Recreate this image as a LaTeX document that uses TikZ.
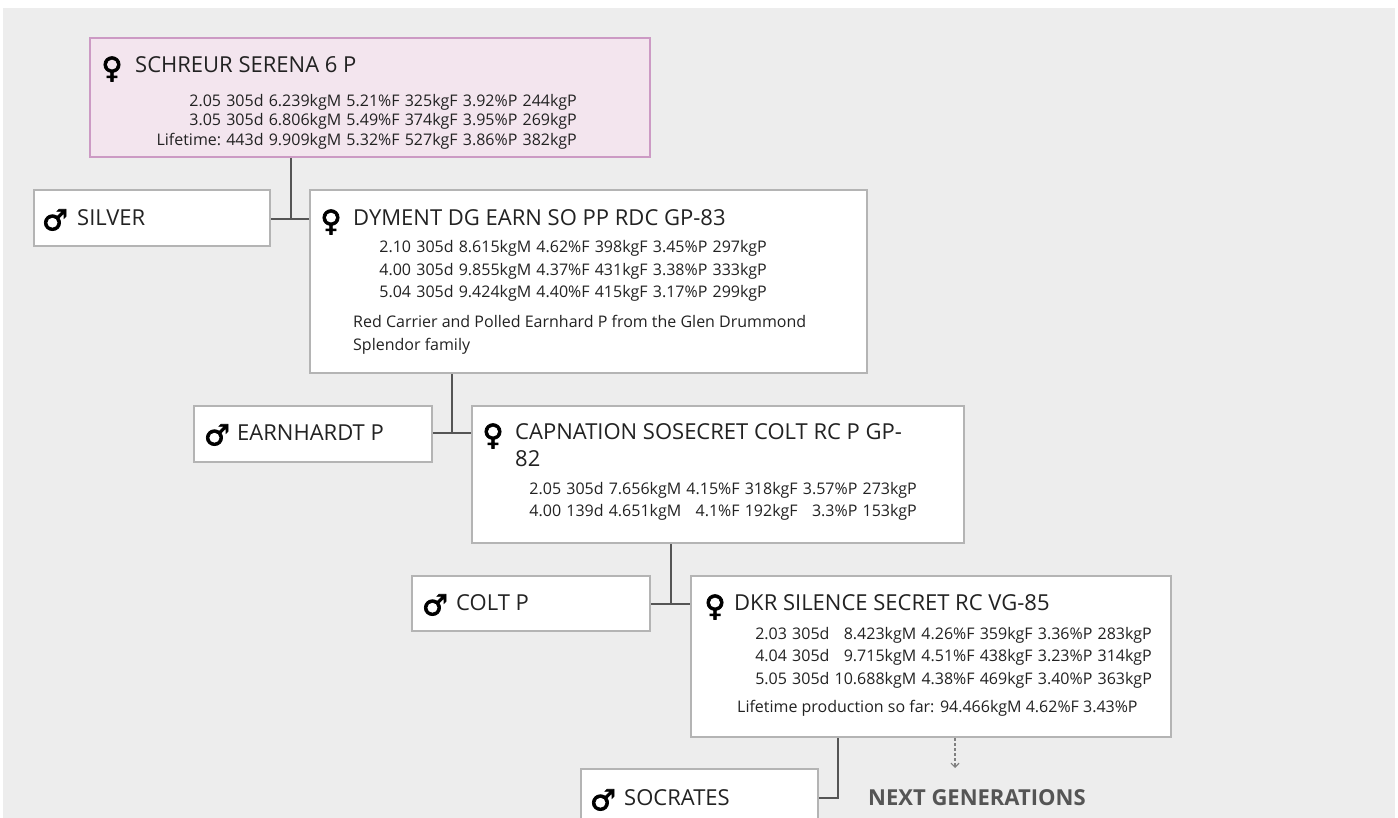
\documentclass[tikz,border=0pt]{standalone}
\usepackage{fontspec}
\setmainfont{Open Sans}
\newfontfamily\symfont[FakeBold=2.5]{DejaVu Sans}
\usetikzlibrary{arrows.meta}
\definecolor{bgcol}{HTML}{EDEDED}
\definecolor{boxgray}{HTML}{B4B4B4}
\definecolor{pinkline}{HTML}{CC9AC4}
\definecolor{pinkfill}{HTML}{F3E5EE}
\definecolor{linkcol}{HTML}{555555}
\definecolor{textcol}{HTML}{222222}
\setlength{\tabcolsep}{2.6pt}
\newcommand{\fem}{♀}
\newcommand{\mal}{♂}
\tikzset{>={Straight Barb[length=4pt,width=8pt]}}
\tikzset{
  cowbox/.style={draw=boxgray, line width=2pt, fill=white, anchor=north west, inner sep=0pt},
  cowname/.style={anchor=west, inner sep=0pt, text=textcol, font=\fontsize{22}{26}\selectfont},
  sexsym/.style={inner sep=0pt, text=black, font=\fontsize{29}{30}\symfont},
  perf/.style={anchor=east, inner sep=0pt, text=textcol, font=\fontsize{16}{22.5}\selectfont},
  note/.style={anchor=west, inner sep=0pt, text=textcol, align=left, font=\fontsize{16}{23}\selectfont},
  link/.style={draw=linkcol, line width=1.8pt},
}

\begin{document}
\begin{tikzpicture}[x=1pt,y=-1pt]
\useasboundingbox (0,0) rectangle (1398,818);
\fill[white] (0,0) rectangle (1398,818);
\fill[bgcol] (3,8) rectangle (1395,818);

\coordinate (j1) at (291,219);
\coordinate (j2) at (452,433);
\coordinate (j3) at (671,604);
\coordinate (j4) at (838,798);
\coordinate (nextgen) at (955,768);

\node[cowbox, draw=pinkline, fill=pinkfill, minimum width=560pt, minimum height=119pt] (serena) at (89,37) {};
\node[cowbox, minimum width=236pt, minimum height=56pt] (silver) at (33,189) {};
\node[cowbox, minimum width=557pt, minimum height=183pt] (dyment) at (309,189) {};
\node[cowbox, minimum width=238pt, minimum height=56pt] (earnhardt) at (193,405) {};
\node[cowbox, minimum width=492pt, minimum height=137pt] (capnation) at (471,405) {};
\node[cowbox, minimum width=238pt, minimum height=55pt] (colt) at (411,575) {};
\node[cowbox, minimum width=480pt, minimum height=161pt] (dkr) at (690,575) {};
\node[cowbox, minimum width=237pt, minimum height=53pt] (socrates) at (580,768) {};

\draw[link] (serena.south -| j1) -- (j1);
\draw[link] (silver.east |- j1) -- (dyment.west |- j1);
\draw[link] (dyment.south -| j2) -- (j2);
\draw[link] (earnhardt.east |- j2) -- (capnation.west |- j2);
\draw[link] (capnation.south -| j3) -- (j3);
\draw[link] (colt.east |- j3) -- (dkr.west |- j3);
\draw[link] (dkr.south -| j4) -- (j4) -- (socrates.east |- j4);
\draw[densely dashed, draw=gray, line width=1.2pt, ->] (dkr.south -| nextgen) -- (nextgen);

\node[sexsym] (serenasym) at (112,69) {\fem};
\node[cowname] (serenaname) at (135,65) {SCHREUR SERENA 6 P};
\node[perf, font=\fontsize{16}{19.5}\selectfont] (serenaperf) at (577,122) {\begin{tabular}{@{}*{7}{r}@{}}
2.05 & 305d & 6.239kgM & 5.21\%F & 325kgF & 3.92\%P & 244kgP\\
3.05 & 305d & 6.806kgM & 5.49\%F & 374kgF & 3.95\%P & 269kgP\\
Lifetime: & 443d & 9.909kgM & 5.32\%F & 527kgF & 3.86\%P & 382kgP
\end{tabular}};

\node[sexsym] (silversym) at (55,220) {\mal};
\node[cowname] (silvername) at (77,218) {SILVER};

\node[sexsym] (dymentsym) at (331,222) {\fem};
\node[cowname] (dymentname) at (353,218) {DYMENT DG EARN SO PP RDC GP-83};
\node[perf] (dymentperf) at (767,271) {\begin{tabular}{@{}*{7}{r}@{}}
2.10 & 305d & 8.615kgM & 4.62\%F & 398kgF & 3.45\%P & 297kgP\\
4.00 & 305d & 9.855kgM & 4.37\%F & 431kgF & 3.38\%P & 333kgP\\
5.04 & 305d & 9.424kgM & 4.40\%F & 415kgF & 3.17\%P & 299kgP
\end{tabular}};
\node[note] (dymentnote) at (353,335) {Red Carrier and Polled Earnhard P from the Glen Drummond\\Splendor family};

\node[sexsym] (earnhardtsym) at (217,435) {\mal};
\node[cowname] (earnhardtname) at (237,433) {EARNHARDT P};

\node[sexsym] (capnationsym) at (493,436) {\fem};
\node[cowname] (capnationname) at (515,432) {CAPNATION SOSECRET COLT RC P GP-};
\node[cowname] (capnationname2) at (515,459) {82};
\node[perf] (capnationperf) at (917,501) {\begin{tabular}{@{}*{7}{r}@{}}
2.05 & 305d & 7.656kgM & 4.15\%F & 318kgF & 3.57\%P & 273kgP\\
4.00 & 139d & 4.651kgM & 4.1\%F & 192kgF & 3.3\%P & 153kgP
\end{tabular}};

\node[sexsym] (coltsym) at (435,605) {\mal};
\node[cowname] (coltname) at (456,603) {COLT P};

\node[sexsym] (dkrsym) at (715,607) {\fem};
\node[cowname] (dkrname) at (734,603) {DKR SILENCE SECRET RC VG-85};
\node[perf] (dkrperf) at (1152,657) {\begin{tabular}{@{}*{7}{r}@{}}
2.03 & 305d & 8.423kgM & 4.26\%F & 359kgF & 3.36\%P & 283kgP\\
4.04 & 305d & 9.715kgM & 4.51\%F & 438kgF & 3.23\%P & 314kgP\\
5.05 & 305d & 10.688kgM & 4.38\%F & 469kgF & 3.40\%P & 363kgP
\end{tabular}};
\node[note] (dkrnote) at (737,708) {Lifetime production so far: 94.466kgM 4.62\%F 3.43\%P};

\node[sexsym] (socratessym) at (603,800) {\mal};
\node[cowname] (socratesname) at (624,798) {SOCRATES};
\node[cowname, text=linkcol, font=\fontsize{22}{26}\bfseries] (nextgenlabel) at (868,798) {NEXT GENERATIONS};
\end{tikzpicture}
\end{document}
